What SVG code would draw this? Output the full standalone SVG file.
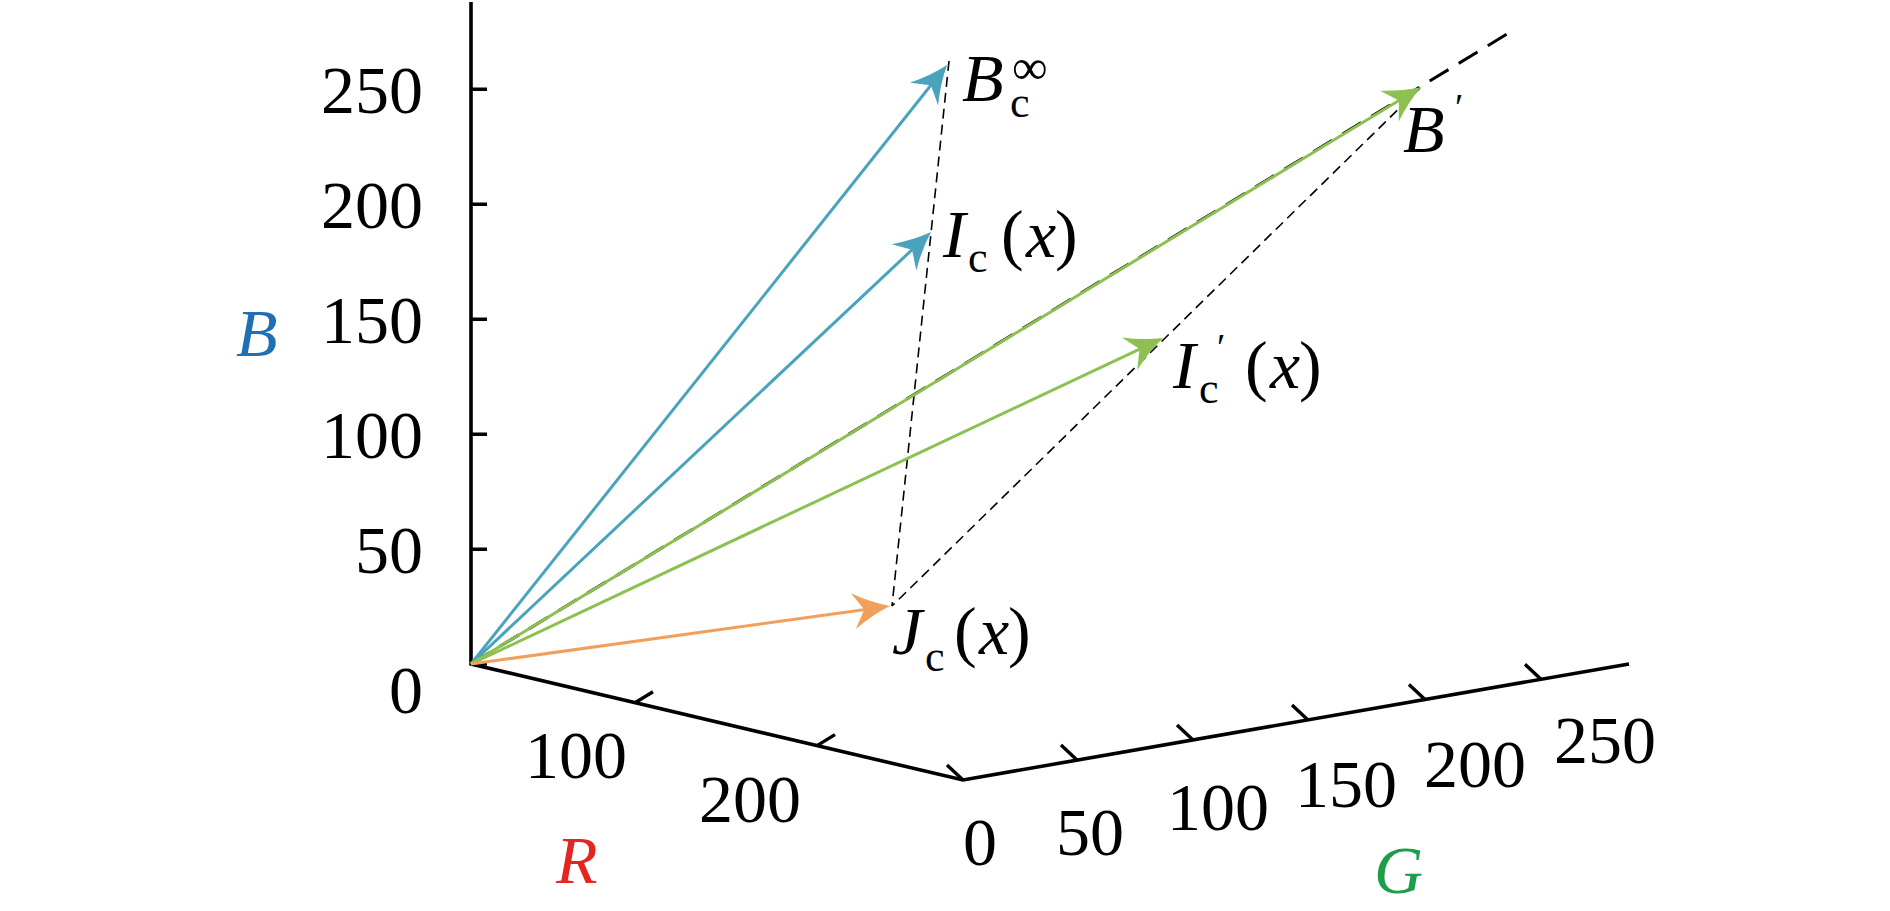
<svg xmlns="http://www.w3.org/2000/svg" width="1890" height="911" viewBox="0 0 1890 911">
<style>
.ax{stroke:#000;stroke-width:3.6;fill:none;stroke-linecap:butt}
.tk{stroke:#000;stroke-width:3.4;fill:none}
.num{font-family:"Liberation Serif","Times New Roman",serif;font-size:68px;fill:#000}
.it{font-family:"Liberation Serif","Times New Roman",serif;font-size:68px;font-style:italic;fill:#000}
.rm{font-family:"Liberation Serif","Times New Roman",serif;font-size:68px;fill:#000}
.sub{font-family:"Liberation Serif","Times New Roman",serif;font-size:44px;fill:#000}
.blue{stroke:#4aa3bd;stroke-width:3;fill:none}
.green{stroke:#8cc152;stroke-width:3;fill:none}
.orange{stroke:#f0a05a;stroke-width:3;fill:none}
.dash{stroke:#000;stroke-width:1.6;fill:none;stroke-dasharray:10 6}
.dashthick{stroke:#000;stroke-width:3;fill:none;stroke-dasharray:22 12}
</style>
<defs>
<marker id="ahBlue" markerUnits="userSpaceOnUse" orient="auto" refX="0" refY="0" markerWidth="60" markerHeight="60" overflow="visible">
<path d="M10,0 Q-8,-6 -27,-18 L-16,0 L-27,18 Q-8,6 10,0 Z" fill="#4aa3bd"/>
</marker>
<marker id="ahGreen" markerUnits="userSpaceOnUse" orient="auto" refX="0" refY="0" markerWidth="60" markerHeight="60" overflow="visible">
<path d="M10,0 Q-8,-6 -27,-18 L-16,0 L-27,18 Q-8,6 10,0 Z" fill="#8cc152"/>
</marker>
<marker id="ahOrange" markerUnits="userSpaceOnUse" orient="auto" refX="0" refY="0" markerWidth="60" markerHeight="60" overflow="visible">
<path d="M10,0 Q-8,-6 -27,-18 L-16,0 L-27,18 Q-8,6 10,0 Z" fill="#f0a05a"/>
</marker>
</defs>
<rect width="1890" height="911" fill="#fff"/>

<g id="axes">
<path class="ax" d="M471,2 L471,664 L963,780 L1629,664"/>
<path class="tk" d="M471,89.3 H487 M471,204.3 H487 M471,319.3 H487 M471,434.3 H487 M471,549.3 H487 M471,664 H487"/>
<path class="tk" d="M635,702.7 l18,-11 M817,745.6 l18,-11"/>
<path class="tk" d="M963,780 l-16,-15 M1077,760.1 l-16,-15 M1193,739.9 l-16,-15 M1308,719.9 l-16,-15 M1425,699.5 l-16,-15 M1541,679.3 l-16,-15"/>
</g>

<g id="axis-labels">
<g class="num" text-anchor="end">
<text x="423" y="113">250</text>
<text x="423" y="228">200</text>
<text x="423" y="343">150</text>
<text x="423" y="458">100</text>
<text x="423" y="573">50</text>
<text x="423" y="713">0</text>
</g>
<g class="num" text-anchor="middle">
<text x="576" y="778">100</text>
<text x="750" y="822">200</text>
<text x="980" y="865">0</text>
<text x="1090" y="855">50</text>
<text x="1218" y="830">100</text>
<text x="1346" y="807">150</text>
<text x="1475" y="787">200</text>
<text x="1605" y="763">250</text>
</g>
<text class="it" x="236" y="356" style="fill:#1f6fb4">B</text>
<text class="it" x="556" y="883" style="fill:#e3261f">R</text>
<text class="it" x="1374" y="893" style="fill:#1e9e4a">G</text>
</g>

<g id="connectors">
<line class="dash" x1="949" y1="61" x2="892" y2="606"/>
<line class="dash" x1="1420" y1="88" x2="892" y2="606"/>
<line class="dashthick" x1="471" y1="664" x2="1507" y2="34"/>
<line class="blue" x1="471" y1="664" x2="940.8" y2="72.8" marker-end="url(#ahBlue)"/>
<line class="blue" x1="471" y1="664" x2="923.7" y2="238.8" marker-end="url(#ahBlue)"/>
<line class="green" x1="471" y1="664" x2="1412.5" y2="92.2" marker-end="url(#ahGreen)"/>
<line class="green" x1="471" y1="664" x2="1154" y2="342.3" marker-end="url(#ahGreen)"/>
<line class="orange" x1="471" y1="664" x2="880.1" y2="607.4" marker-end="url(#ahOrange)"/>
</g>

<g id="node-Bc-inf">
<text class="it" x="962" y="101">B</text>
<text class="sub" x="1010" y="117">c</text>
<text class="sub" x="1012" y="84" style="font-size:50px">∞</text>
</g>
<g id="node-Ic">
<text class="it" x="943" y="257">I</text>
<text class="sub" x="968" y="272">c</text>
<text class="rm" x="1001" y="257">(</text>
<text class="it" x="1026" y="257">x</text>
<text class="rm" x="1055" y="257">)</text>
</g>
<g id="node-Icprime">
<text class="it" x="1173" y="388">I</text>
<text class="sub" x="1199" y="403">c</text>
<text class="sub" x="1217" y="360" style="font-size:38px">′</text>
<text class="rm" x="1245" y="388">(</text>
<text class="it" x="1270" y="388">x</text>
<text class="rm" x="1299" y="388">)</text>
</g>
<g id="node-Bprime">
<text class="it" x="1403" y="152">B</text>
<text class="sub" x="1455" y="120" style="font-size:38px">′</text>
</g>
<g id="node-Jc">
<text class="it" x="892" y="654">J</text>
<text class="sub" x="925" y="671">c</text>
<text class="rm" x="954" y="654">(</text>
<text class="it" x="979" y="654">x</text>
<text class="rm" x="1008" y="654">)</text>
</g>
</svg>
